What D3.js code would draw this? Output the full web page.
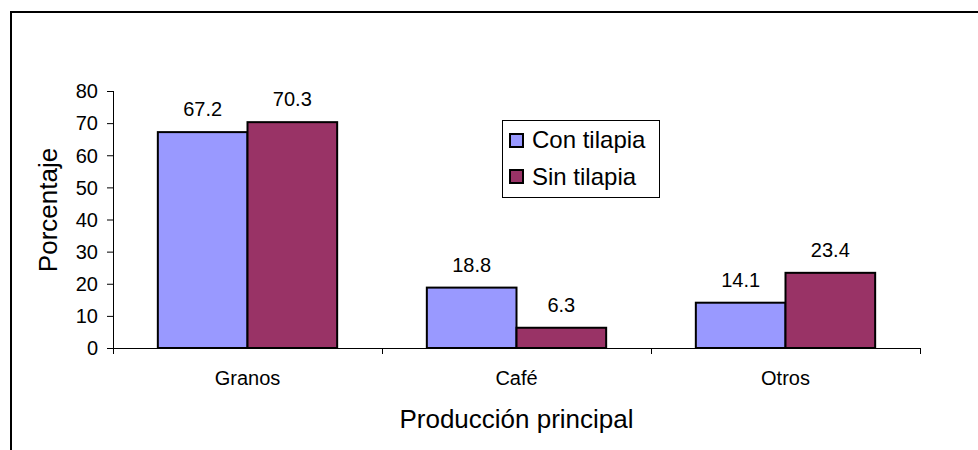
<!DOCTYPE html>
<html>
<head>
<meta charset="utf-8">
<script src="https://cdn.jsdelivr.net/npm/d3@7"></script>
<style>
  html, body { margin: 0; padding: 0; background: #fff; }
  svg text { font-family: "Liberation Sans", Arial, sans-serif; fill: #000; }
</style>
</head>
<body>
<svg id="chart" width="978" height="450"></svg>
<script>
const categories = ["Granos", "Café", "Otros"];
const seriesNames = ["Con tilapia", "Sin tilapia"];
const conTilapia = [67.2, 18.8, 14.1];
const sinTilapia = [70.3, 6.3, 23.4];
const yTicks = [0, 10, 20, 30, 40, 50, 60, 70, 80];
const colors = ["#9999FF", "#993366"];
const xTitle = "Producción principal";
const yTitle = "Porcentaje";

const seriesValues = [conTilapia, sinTilapia];
const svg = d3.select("#chart");

// outer frame (extends past the image edges)
svg.append("rect").attr("x", 11).attr("y", 12).attr("width", 1000).attr("height", 500)
  .attr("fill", "none").attr("stroke", "#000").attr("stroke-width", 2);

const plot = { left: 113, right: 920, top: 91, bottom: 348 };

const x0 = d3.scaleBand().domain(categories).range([plot.left, plot.right]).paddingInner(0).paddingOuter(0);
const x1 = d3.scaleBand().domain(seriesNames).range([0, x0.bandwidth()]).paddingInner(0).paddingOuter(0.5);
const y = d3.scaleLinear().domain([0, 80]).range([plot.bottom, plot.top]);

// bars
const groups = svg.append("g").selectAll("g").data(categories).join("g")
  .attr("transform", d => `translate(${x0(d)},0)`);

groups.each(function(cat, ci) {
  const g = d3.select(this);
  seriesNames.forEach((s, si) => {
    const v = seriesValues[si][ci];
    g.append("rect")
      .attr("x", x1(s)).attr("y", y(v))
      .attr("width", x1.bandwidth()).attr("height", y(0) - y(v))
      .attr("fill", colors[si]).attr("stroke", "#000").attr("stroke-width", 2);
    g.append("text")
      .attr("x", x1(s) + x1.bandwidth() / 2).attr("y", y(v) - 16)
      .attr("text-anchor", "middle").attr("font-size", 20)
      .text(v.toFixed(1));
  });
});

// y axis
const yAxis = svg.append("g").attr("transform", `translate(${plot.left},0)`)
  .call(d3.axisLeft(y).tickValues(yTicks).tickSize(6).tickPadding(9).tickFormat(d3.format("d")));
yAxis.select(".domain").remove();
yAxis.selectAll(".tick line").attr("stroke", "#000");
yAxis.selectAll(".tick text").attr("font-size", 20).attr("font-family", "Liberation Sans, Arial, sans-serif").attr("dy", "0.34em");
svg.append("line").attr("x1", plot.left + 0.5).attr("x2", plot.left + 0.5)
  .attr("y1", y(80)).attr("y2", plot.bottom + 6).attr("stroke", "#000");

// x axis
svg.append("line").attr("x1", plot.left).attr("x2", plot.right)
  .attr("y1", plot.bottom + 0.5).attr("y2", plot.bottom + 0.5).attr("stroke", "#000");
const boundaries = categories.map(c => x0(c)).concat([x0(categories[categories.length - 1]) + x0.bandwidth()]);
svg.append("g").selectAll("line").data(boundaries).join("line")
  .attr("x1", d => Math.round(d) + 0.5).attr("x2", d => Math.round(d) + 0.5)
  .attr("y1", plot.bottom).attr("y2", plot.bottom + 6).attr("stroke", "#000");
svg.append("g").selectAll("text").data(categories).join("text")
  .attr("x", d => x0(d) + x0.bandwidth() / 2).attr("y", 385)
  .attr("text-anchor", "middle").attr("font-size", 20).text(d => d);

// axis titles
svg.append("text").attr("x", (plot.left + plot.right) / 2).attr("y", 428)
  .attr("text-anchor", "middle").attr("font-size", 26).text(xTitle);
svg.append("text").attr("transform", "translate(57,210) rotate(-90)")
  .attr("text-anchor", "middle").attr("font-size", 26).text(yTitle);

// legend
const lg = svg.append("g").attr("transform", "translate(502,120)");
lg.append("rect").attr("x", 0.5).attr("y", 0.5).attr("width", 157).attr("height", 77)
  .attr("fill", "#fff").attr("stroke", "#000").attr("stroke-width", 1);
seriesNames.forEach((s, i) => {
  lg.append("rect").attr("x", 8).attr("y", 14 + i * 36).attr("width", 13).attr("height", 13)
    .attr("fill", colors[i]).attr("stroke", "#000").attr("stroke-width", 2);
  lg.append("text").attr("x", 30).attr("y", 28 + i * 37).attr("font-size", 24).text(s);
});
</script>
</body>
</html>
